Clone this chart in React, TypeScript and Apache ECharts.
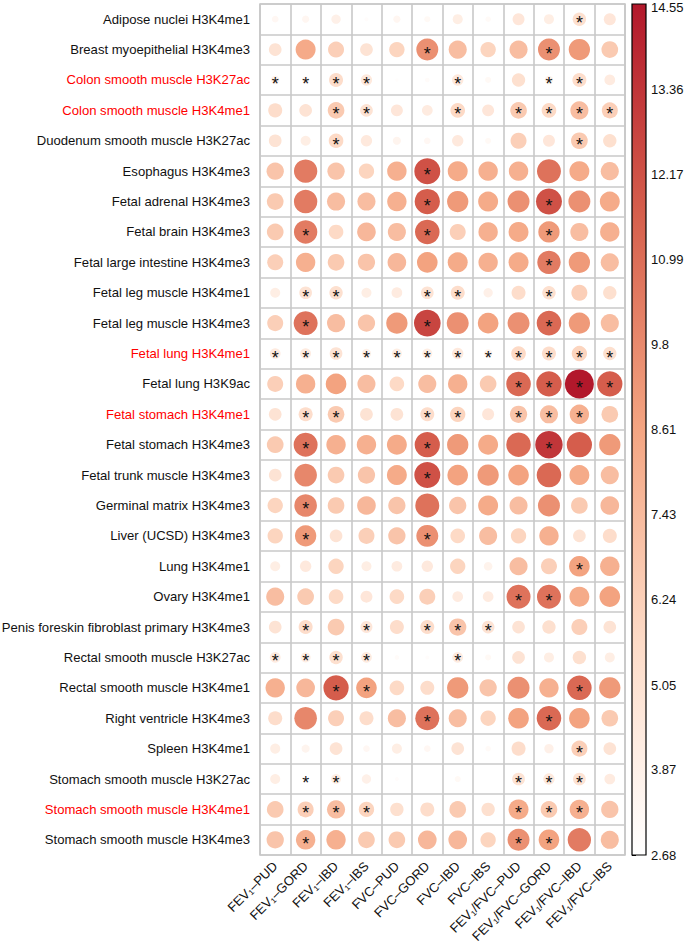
import { useEffect, useRef } from "react";
import * as echarts from "echarts";

const traits = [
  "FEV₁–PUD", "FEV₁–GORD", "FEV₁–IBD", "FEV₁–IBS",
  "FVC–PUD", "FVC–GORD", "FVC–IBD", "FVC–IBS",
  "FEV₁/FVC–PUD", "FEV₁/FVC–GORD", "FEV₁/FVC–IBD", "FEV₁/FVC–IBS",
];

const tissues = [
  "Adipose nuclei H3K4me1",
  "Breast myoepithelial H3K4me3",
  "Colon smooth muscle H3K27ac",
  "Colon smooth muscle H3K4me1",
  "Duodenum smooth muscle H3K27ac",
  "Esophagus H3K4me3",
  "Fetal adrenal H3K4me3",
  "Fetal brain H3K4me3",
  "Fetal large intestine H3K4me3",
  "Fetal leg muscle H3K4me1",
  "Fetal leg muscle H3K4me3",
  "Fetal lung H3K4me1",
  "Fetal lung H3K9ac",
  "Fetal stomach H3K4me1",
  "Fetal stomach H3K4me3",
  "Fetal trunk muscle H3K4me3",
  "Germinal matrix H3K4me3",
  "Liver (UCSD) H3K4me3",
  "Lung H3K4me1",
  "Ovary H3K4me1",
  "Penis foreskin fibroblast primary H3K4me3",
  "Rectal smooth muscle H3K27ac",
  "Rectal smooth muscle H3K4me1",
  "Right ventricle H3K4me3",
  "Spleen H3K4me1",
  "Stomach smooth muscle H3K27ac",
  "Stomach smooth muscle H3K4me1",
  "Stomach smooth muscle H3K4me3",
];

const redTissues = [
  "Colon smooth muscle H3K27ac",
  "Colon smooth muscle H3K4me1",
  "Fetal lung H3K4me1",
  "Fetal stomach H3K4me1",
  "Stomach smooth muscle H3K4me1",
];

// enrichment values, one row per tissue, one column per trait
const values: number[][] = [
  [3.31, 3.4, 3.9, 2.9, 3.4, 3.2, 4.1, 3.1, 4.7, 4.1, 5.2, 4.7],
  [4.95, 8.33, 6.3, 4.95, 6.0, 9.5, 7.3, 6.0, 7.3, 9.5, 9.1, 6.6],
  [3.7, 3.4, 5.45, 4.5, 2.84, 2.98, 4.5, 3.2, 5.2, 3.7, 5.45, 4.3],
  [5.45, 4.95, 6.6, 4.95, 4.7, 4.3, 5.7, 4.7, 6.6, 5.7, 7.3, 6.3],
  [4.95, 4.1, 5.7, 4.5, 3.6, 3.3, 4.5, 3.2, 6.3, 4.7, 6.6, 5.2],
  [6.9, 10.4, 6.9, 6.0, 8.0, 12.2, 8.3, 8.0, 8.0, 10.8, 8.3, 7.3],
  [6.6, 10.4, 7.3, 7.3, 8.0, 11.7, 9.1, 8.3, 9.5, 12.2, 9.5, 8.3],
  [6.6, 10.4, 5.7, 7.6, 7.3, 11.2, 6.3, 8.0, 8.3, 9.1, 7.3, 8.0],
  [6.3, 8.0, 6.6, 6.9, 7.6, 8.7, 8.3, 8.0, 8.3, 10.4, 9.1, 7.3],
  [4.1, 4.95, 5.2, 4.1, 4.3, 4.95, 5.45, 3.9, 5.45, 5.2, 6.3, 5.2],
  [6.3, 10.8, 7.3, 6.9, 9.1, 12.7, 9.5, 8.7, 9.5, 11.2, 9.1, 7.3],
  [4.3, 4.3, 4.95, 3.9, 4.1, 4.1, 4.5, 3.7, 5.7, 5.45, 6.0, 5.2],
  [6.3, 8.0, 8.7, 7.3, 5.7, 7.3, 8.0, 6.6, 11.2, 11.7, 14.55, 11.7],
  [4.95, 5.45, 6.6, 4.95, 4.95, 5.45, 6.0, 4.7, 6.9, 7.3, 8.0, 6.6],
  [6.6, 10.8, 8.0, 8.0, 8.3, 11.7, 9.1, 8.3, 11.2, 13.3, 11.7, 9.1],
  [4.95, 9.9, 6.6, 6.9, 8.3, 12.2, 8.7, 9.1, 8.7, 11.2, 8.3, 7.3],
  [6.0, 9.9, 6.6, 7.6, 6.9, 10.8, 6.9, 8.3, 7.3, 9.5, 6.6, 7.6],
  [6.0, 9.1, 4.95, 6.3, 6.9, 9.5, 5.7, 7.3, 6.0, 8.0, 4.95, 5.45],
  [4.1, 4.5, 6.0, 4.1, 4.3, 4.5, 6.0, 3.7, 7.3, 6.3, 8.7, 8.0],
  [7.3, 6.6, 5.7, 4.7, 5.7, 6.3, 4.3, 4.3, 10.8, 10.8, 8.3, 8.7],
  [4.95, 5.45, 6.6, 4.7, 5.45, 5.45, 6.9, 4.95, 4.95, 5.2, 6.3, 4.95],
  [4.3, 4.1, 5.2, 4.3, 2.98, 2.9, 4.3, 3.2, 4.95, 4.1, 5.2, 4.1],
  [8.0, 7.6, 11.7, 8.7, 5.7, 5.45, 9.1, 6.9, 9.5, 8.0, 11.2, 9.1],
  [5.45, 9.9, 6.3, 5.45, 7.3, 10.8, 7.3, 6.0, 8.7, 11.2, 8.7, 6.6],
  [4.1, 3.6, 4.95, 3.3, 4.1, 3.3, 4.95, 3.1, 5.45, 3.9, 6.3, 4.95],
  [4.1, 2.8, 4.1, 3.9, 2.9, 2.7, 3.2, 2.7, 4.95, 4.5, 4.95, 4.3],
  [6.6, 6.3, 7.3, 6.0, 5.2, 5.45, 6.6, 5.2, 8.3, 6.6, 8.0, 6.9],
  [6.9, 8.0, 8.0, 6.6, 6.6, 7.6, 7.6, 6.0, 9.5, 8.7, 10.4, 7.3],
];

// column indices (traits) marked significant, per tissue row
const significant: number[][] = [
  [10],
  [5, 9],
  [0, 1, 2, 3, 6, 9, 10],
  [2, 3, 6, 8, 9, 10, 11],
  [2, 10],
  [5],
  [5, 9],
  [1, 5, 9],
  [9],
  [1, 2, 5, 6, 9],
  [1, 5, 9],
  [0, 1, 2, 3, 4, 5, 6, 7, 8, 9, 10, 11],
  [8, 9, 10, 11],
  [1, 2, 5, 6, 8, 9, 10],
  [1, 5, 9],
  [5],
  [1],
  [1, 5],
  [10],
  [8, 9],
  [1, 3, 5, 6, 7],
  [0, 1, 2, 3, 6],
  [2, 3, 10],
  [5, 9],
  [10],
  [1, 2, 8, 9, 10],
  [1, 2, 3, 8, 9, 10],
  [1, 8, 9],
];

const colorbarTicks = [14.55, 13.36, 12.17, 10.99, 9.8, 8.61, 7.43, 6.24, 5.05, 3.87, 2.68];
const vMin = 2.68;
const vMax = 14.55;
const palette = ["#FFFFFF", "#FDDBC7", "#F4A582", "#D6604D", "#B2182B"];

const FONT = "'Liberation Sans', Arial, sans-serif";

export default function App() {
  const ref = useRef<HTMLDivElement>(null);

  useEffect(() => {
    if (!ref.current) return;
    const chart = echarts.init(ref.current, null, { renderer: "svg" });

    const data: any[] = [];
    values.forEach((row, r) => {
      row.forEach((v, c) => {
        const sig = significant[r].includes(c);
        data.push({ value: [c, r, v], label: { show: sig } });
      });
    });

    const gridLine = { show: true, lineStyle: { color: "#c8c8c8", width: 1.6 } };

    const cbLeft = 632, cbTop = 4, cbW = 14, cbH = 851;

    chart.setOption({
      animation: false,
      textStyle: { fontFamily: FONT },
      grid: [
        {
          left: 260, top: 4, width: 365, height: 851,
          show: true, borderColor: "#c8c8c8", borderWidth: 1.6,
          containLabel: false, outerBoundsMode: "none",
        },
        { left: cbLeft, top: cbTop, width: cbW, height: cbH, containLabel: false, outerBoundsMode: "none" },
      ],
      xAxis: [
        {
          type: "category",
          gridIndex: 0,
          data: traits,
          position: "bottom",
          axisLine: { show: false },
          axisTick: { show: false },
          splitLine: { ...gridLine, interval: 0 },
          axisLabel: { interval: 0, rotate: 45, fontSize: 13, color: "#111", margin: 9, fontFamily: FONT },
        },
        { type: "value", gridIndex: 1, min: 0, max: 1, show: false },
      ],
      yAxis: [
        {
          type: "category",
          gridIndex: 0,
          data: tissues,
          inverse: true,
          axisLine: { show: false },
          axisTick: { show: false },
          splitLine: { ...gridLine, interval: 0 },
          axisLabel: {
            interval: 0,
            fontSize: 13.1,
            margin: 10,
            fontFamily: FONT,
            color: (val: string) => (redTissues.includes(val) ? "#ff0000" : "#111111"),
          },
        },
        {
          type: "value",
          gridIndex: 1,
          min: vMin,
          max: vMax,
          position: "right",
          axisLine: { show: false },
          splitLine: { show: false },
          axisTick: { show: true, customValues: colorbarTicks, length: 4, inside: false, lineStyle: { color: "#000", width: 1 } },
          axisLabel: {
            customValues: colorbarTicks,
            fontSize: 13,
            color: "#111",
            margin: 5,
            fontFamily: FONT,
            formatter: (v: number) => (v === vMax ? "{top|" + v + "}" : String(v)),
            rich: {
              top: { fontSize: 13, color: "#111", fontFamily: FONT, padding: [7, 0, 0, 0] },
            },
          },
        },
      ],
      visualMap: {
        type: "continuous",
        show: false,
        min: vMin,
        max: vMax,
        dimension: 2,
        seriesIndex: 0,
        inRange: { color: palette },
      },
      graphic: [
        {
          type: "rect",
          z: 1,
          shape: { x: cbLeft, y: cbTop, width: cbW, height: cbH },
          style: {
            fill: new echarts.graphic.LinearGradient(0, 0, 0, 1, [
              { offset: 0, color: palette[4] },
              { offset: 0.25, color: palette[3] },
              { offset: 0.5, color: palette[2] },
              { offset: 0.75, color: palette[1] },
              { offset: 1, color: palette[0] },
            ]),
            stroke: "#000",
            lineWidth: 1.2,
          },
        },
      ],
      series: [
        {
          type: "scatter",
          xAxisIndex: 0,
          yAxisIndex: 0,
          data,
          symbol: "circle",
          symbolSize: (val: number[]) => 29 * Math.sqrt(Math.max(0, (val[2] - vMin) / (vMax - vMin))),
          itemStyle: { opacity: 1 },
          label: {
            show: false,
            position: "inside",
            formatter: "*",
            color: "#111",
            fontSize: 18,
            fontFamily: FONT,
            offset: [0, 4],
          },
          emphasis: { disabled: true },
        },
      ],
    });

    return () => chart.dispose();
  }, []);

  return <div ref={ref} style={{ position: "absolute", left: 0, top: 0, width: 685, height: 946 }} />;
}
